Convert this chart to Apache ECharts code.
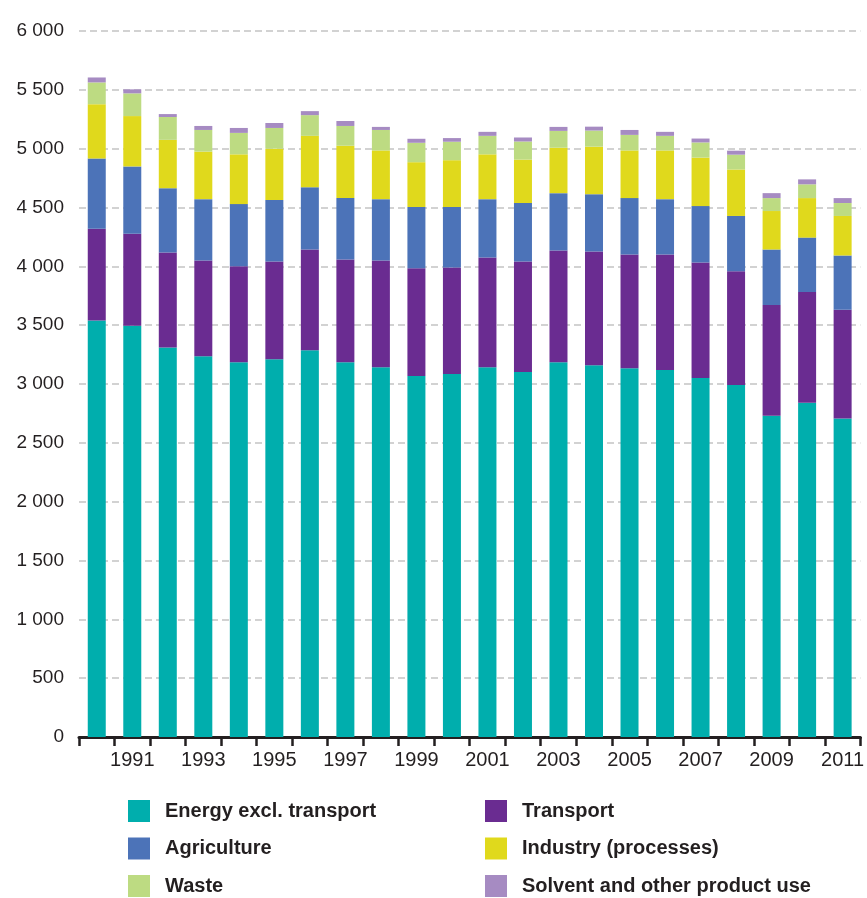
<!DOCTYPE html>
<html>
<head>
<meta charset="utf-8">
<script src="https://cdn.jsdelivr.net/npm/echarts@6/dist/echarts.min.js"></script>
<style>
    html, body { margin: 0; padding: 0; background: #fff; }
    #chart { width: 867px; height: 898px; }
</style>
</head>
<body>
<div id="chart"></div>
<script>
    var years = ['1990', '1991', '1992', '1993', '1994', '1995', '1996', '1997', '1998', '1999', '2000',
        '2001', '2002', '2003', '2004', '2005', '2006', '2007', '2008', '2009', '2010', '2011'];

    // values
    var energy = [3540, 3496, 3311, 3235, 3185, 3210, 3286, 3185, 3143, 3067, 3084,
        3143, 3101, 3185, 3160, 3134, 3118, 3050, 2991, 2731, 2840, 2706];
    var transport = [779, 781, 806, 815, 815, 832, 857, 874, 907, 916, 907,
        932, 941, 949, 966, 967, 983, 983, 967, 941, 941, 924];
    var agriculture = [597, 572, 547, 521, 529, 521, 529, 521, 521, 521, 513,
        496, 496, 488, 487, 479, 470, 479, 470, 471, 463, 462];
    var industry = [462, 428, 411, 404, 423, 437, 437, 445, 414, 381, 398,
        381, 369, 386, 404, 405, 414, 412, 395, 327, 336, 336];
    var waste = [185, 193, 194, 184, 182, 176, 176, 168, 174, 165, 157,
        157, 154, 143, 137, 132, 124, 129, 126, 110, 117, 110];
    var solvent = [42, 34, 25, 34, 42, 42, 34, 42, 26, 34, 31,
        34, 34, 34, 33, 42, 34, 33, 34, 42, 42, 42];

    var seriesNames = ['Energy excl. transport', 'Transport', 'Agriculture',
        'Industry (processes)', 'Waste', 'Solvent and other product use'];
    var seriesData = [energy, transport, agriculture, industry, waste, solvent];
    var colors = ['#00aead', '#6a2c91', '#4c73b8', '#e0d91c', '#bddb82', '#a68bc2'];

    var chart = echarts.init(document.getElementById('chart'));

    var legendBase = {
        orient: 'vertical',
        top: 800,
        height: 140,
        padding: 0,
        itemWidth: 22,
        itemHeight: 22,
        itemGap: 15.5,
        icon: 'rect',
        selectedMode: false,
        textStyle: {
            fontFamily: 'Liberation Sans, Arial, sans-serif',
            fontWeight: 'bold',
            fontSize: 20,
            color: '#231f20',
            padding: [0, 0, 0, 10]
        }
    };

    var option = {
        animation: false,
        color: colors,
        grid: {
            left: 79,
            right: 1,
            top: 31,
            bottom: 161
        },
        legend: [
            Object.assign({}, legendBase, { left: 128, data: [seriesNames[0], seriesNames[2], seriesNames[4]] }),
            Object.assign({}, legendBase, { left: 485, data: [seriesNames[1], seriesNames[3], seriesNames[5]] })
        ],
        xAxis: {
            type: 'category',
            data: years,
            boundaryGap: true,
            axisLine: { lineStyle: { color: '#231f20', width: 3 } },
            axisTick: {
                show: true,
                interval: 0,
                length: 9,
                lineStyle: { color: '#231f20', width: 2.5 }
            },
            axisLabel: {
                interval: function (index) { return index % 2 === 1; },
                margin: 13,
                fontFamily: 'Liberation Sans Narrow, Liberation Sans, Arial, sans-serif',
                fontSize: 20,
                color: '#231f20'
            }
        },
        yAxis: {
            type: 'value',
            min: 0,
            max: 6000,
            interval: 500,
            axisLine: { show: false },
            axisTick: { show: false },
            axisLabel: {
                margin: 15,
                fontFamily: 'Liberation Sans, Arial, sans-serif',
                fontSize: 19,
                color: '#231f20',
                formatter: function (v) {
                    if (v < 1000) return String(v);
                    var rest = String(v % 1000);
                    while (rest.length < 3) rest = '0' + rest;
                    return Math.floor(v / 1000) + ' ' + rest;
                }
            },
            splitLine: {
                show: true,
                lineStyle: { color: '#c4c4c4', width: 1.5, type: [7, 4] }
            }
        },
        series: seriesNames.map(function (name, i) {
            return {
                name: name,
                type: 'bar',
                stack: 'total',
                barWidth: 18,
                data: seriesData[i],
                itemStyle: { color: colors[i] }
            };
        })
    };

    chart.setOption(option);
</script>
</body>
</html>
